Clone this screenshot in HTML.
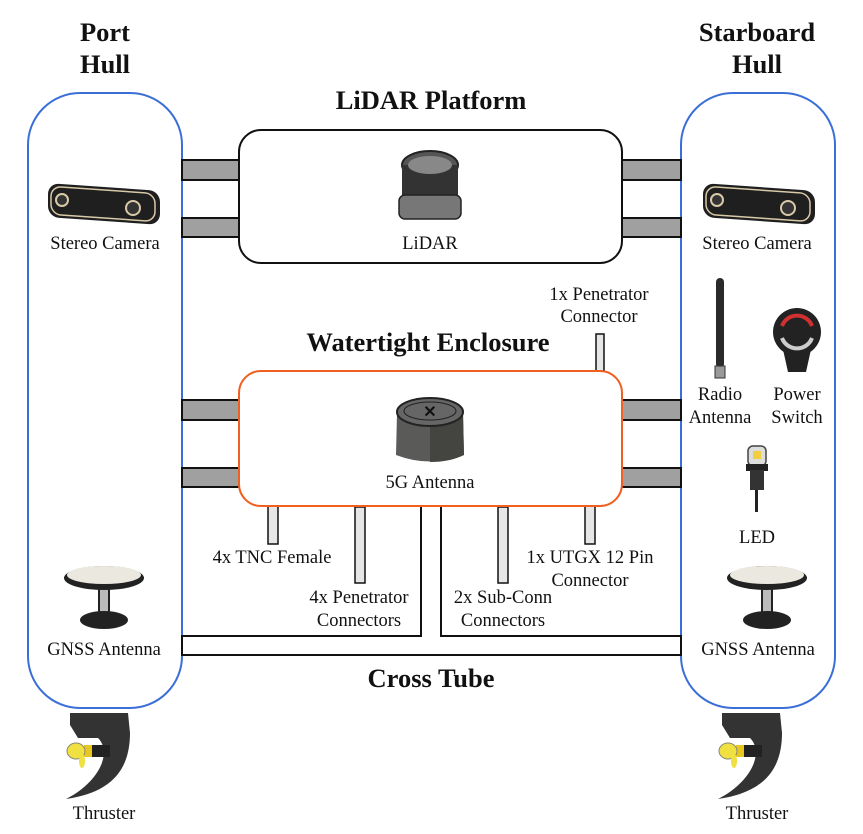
<!DOCTYPE html>
<html><head><meta charset="utf-8"><style>
html,body{margin:0;padding:0;background:#fff;}
svg{display:block;}
text{font-family:"Liberation Serif",serif;fill:#111;}
.t{font-size:18.5px;text-anchor:middle;}
.b{font-weight:bold;font-size:26.5px;text-anchor:middle;}
</style></head><body>
<svg width="863" height="834" viewBox="0 0 863 834" xmlns="http://www.w3.org/2000/svg">
<defs>
<g id="cam">
<rect x="-56" y="-16" width="112" height="34" rx="11" fill="#1f1f1f" transform="skewY(4)"/>
<rect x="-53" y="-13" width="104" height="28" rx="10" fill="none" stroke="#d8c9a8" stroke-width="1.5" transform="skewY(4)"/>
<circle cx="-42" cy="-3" r="6" fill="#333" stroke="#d8c9a8" stroke-width="2"/>
<circle cx="29" cy="5" r="7" fill="#333" stroke="#d8c9a8" stroke-width="2"/>
</g>
<g id="gnss">
<rect x="-5" y="8" width="10" height="28" fill="#bbb" stroke="#222" stroke-width="2"/>
<ellipse cx="0" cy="42" rx="24" ry="9" fill="#222"/>
<ellipse cx="0" cy="0" rx="40" ry="12" fill="#222"/>
<ellipse cx="0" cy="-3" rx="37" ry="9" fill="#ebe8e0"/>
</g>
<g id="thr">
<path d="M2,0 L60,0 L62,20 C62,60 40,80 -2,86 C30,70 45,40 30,25 L10,25 L2,12 Z" fill="#333"/>
<rect x="22" y="32" width="20" height="12" fill="#222"/>
<rect x="16" y="32" width="8" height="12" fill="#e8c820"/>
<ellipse cx="8" cy="38" rx="9" ry="8" fill="#f0e040" stroke="#887" stroke-width="1"/>
<ellipse cx="14" cy="48" rx="3" ry="7" fill="#f0e040"/>
</g>
</defs>

<rect x="28" y="93" width="154" height="615" rx="52" fill="#fff" stroke="#3a6fd8" stroke-width="2"/>
<rect x="681" y="93" width="154" height="615" rx="52" fill="#fff" stroke="#3a6fd8" stroke-width="2"/>

<g fill="#a0a0a0" stroke="#111" stroke-width="2">
<rect x="182" y="160" width="57" height="20"/>
<rect x="182" y="218" width="57" height="19"/>
<rect x="622" y="160" width="59" height="20"/>
<rect x="622" y="218" width="59" height="19"/>
<rect x="182" y="400" width="57" height="20"/>
<rect x="182" y="468" width="57" height="19"/>
<rect x="622" y="400" width="59" height="20"/>
<rect x="622" y="468" width="59" height="19"/>
</g>

<path d="M182,636 L421,636 L421,506 L441,506 L441,636 L681,636 L681,655 L182,655 Z" fill="#fff" stroke="#111" stroke-width="2"/>

<g fill="#e6e6e6" stroke="#111" stroke-width="1.5">
<rect x="268" y="506" width="10" height="38"/>
<rect x="355" y="507" width="10" height="76"/>
<rect x="498" y="507" width="10" height="76"/>
<rect x="585" y="506" width="10" height="38"/>
<rect x="596" y="334" width="8" height="37"/>
</g>

<rect x="239" y="130" width="383" height="133" rx="22" fill="#fff" stroke="#111" stroke-width="2"/>
<rect x="239" y="371" width="383" height="135" rx="22" fill="#fff" stroke="#f06020" stroke-width="2"/>

<g transform="translate(430,0)">
<ellipse cx="0" cy="165" rx="28" ry="14" fill="#555" stroke="#222" stroke-width="2"/>
<rect x="-28" y="165" width="56" height="45" fill="#333"/>
<rect x="-31" y="195" width="62" height="24" rx="6" fill="#777" stroke="#222" stroke-width="1.5"/>
<ellipse cx="0" cy="165" rx="22" ry="9" fill="#888"/>
</g>

<g transform="translate(430,0)">
<path d="M-33,413 L-34,455 Q0,468 34,455 L33,413 Z" fill="#5a5a58"/>
<path d="M0,415 L0,462 Q20,462 34,455 L33,413 Z" fill="#444440"/>
<ellipse cx="0" cy="412" rx="33" ry="14" fill="#666" stroke="#222" stroke-width="2"/>
<ellipse cx="0" cy="411" rx="26" ry="9" fill="none" stroke="#222" stroke-width="1"/>
<text x="0" y="417" font-size="16" font-weight="bold" text-anchor="middle" style="font-family:'Liberation Sans',sans-serif">✕</text>
</g>

<use href="#cam" x="104" y="203"/>
<use href="#cam" x="759" y="203"/>
<use href="#gnss" x="104" y="578"/>
<use href="#gnss" x="767" y="578"/>
<use href="#thr" x="68" y="713"/>
<use href="#thr" x="720" y="713"/>

<rect x="716" y="278" width="8" height="90" rx="4" fill="#2a2a2a"/>
<rect x="715" y="366" width="10" height="12" fill="#999" stroke="#333"/>
<path d="M782,345 L812,345 L806,372 L788,372 Z" fill="#222"/>
<circle cx="797" cy="332" r="24" fill="#222"/>
<path d="M782,326 A16,16 0 0 1 812,326" fill="none" stroke="#d03030" stroke-width="4"/>
<path d="M812,338 A16,16 0 0 1 782,338" fill="none" stroke="#ccc" stroke-width="4"/>
<rect x="748" y="446" width="18" height="20" rx="5" fill="#ddd" stroke="#444" stroke-width="1.5"/>
<rect x="753" y="451" width="8" height="8" fill="#f0d040"/>
<rect x="746" y="464" width="22" height="7" fill="#222"/>
<rect x="750" y="470" width="14" height="20" fill="#333"/>
<rect x="755" y="490" width="3" height="22" fill="#222"/>

<text class="b" x="105" y="41">Port</text>
<text class="b" x="105" y="73">Hull</text>
<text class="b" x="757" y="41">Starboard</text>
<text class="b" x="757" y="73">Hull</text>
<text class="b" x="431" y="109">LiDAR Platform</text>
<text class="b" x="428" y="351">Watertight Enclosure</text>
<text class="b" x="431" y="687">Cross Tube</text>

<text class="t" x="105" y="249">Stereo Camera</text>
<text class="t" x="757" y="249">Stereo Camera</text>
<text class="t" x="430" y="249">LiDAR</text>
<text class="t" x="430" y="488">5G Antenna</text>
<text class="t" x="599" y="300">1x Penetrator</text>
<text class="t" x="599" y="322">Connector</text>
<text class="t" x="720" y="400">Radio</text>
<text class="t" x="720" y="423">Antenna</text>
<text class="t" x="797" y="400">Power</text>
<text class="t" x="797" y="423">Switch</text>
<text class="t" x="757" y="543">LED</text>
<text class="t" x="272" y="563">4x TNC Female</text>
<text class="t" x="359" y="603">4x Penetrator</text>
<text class="t" x="359" y="626">Connectors</text>
<text class="t" x="503" y="603">2x Sub-Conn</text>
<text class="t" x="503" y="626">Connectors</text>
<text class="t" x="590" y="563">1x UTGX 12 Pin</text>
<text class="t" x="590" y="586">Connector</text>
<text class="t" x="104" y="655">GNSS Antenna</text>
<text class="t" x="758" y="655">GNSS Antenna</text>
<text class="t" x="104" y="819">Thruster</text>
<text class="t" x="757" y="819">Thruster</text>
</svg>
</body></html>
